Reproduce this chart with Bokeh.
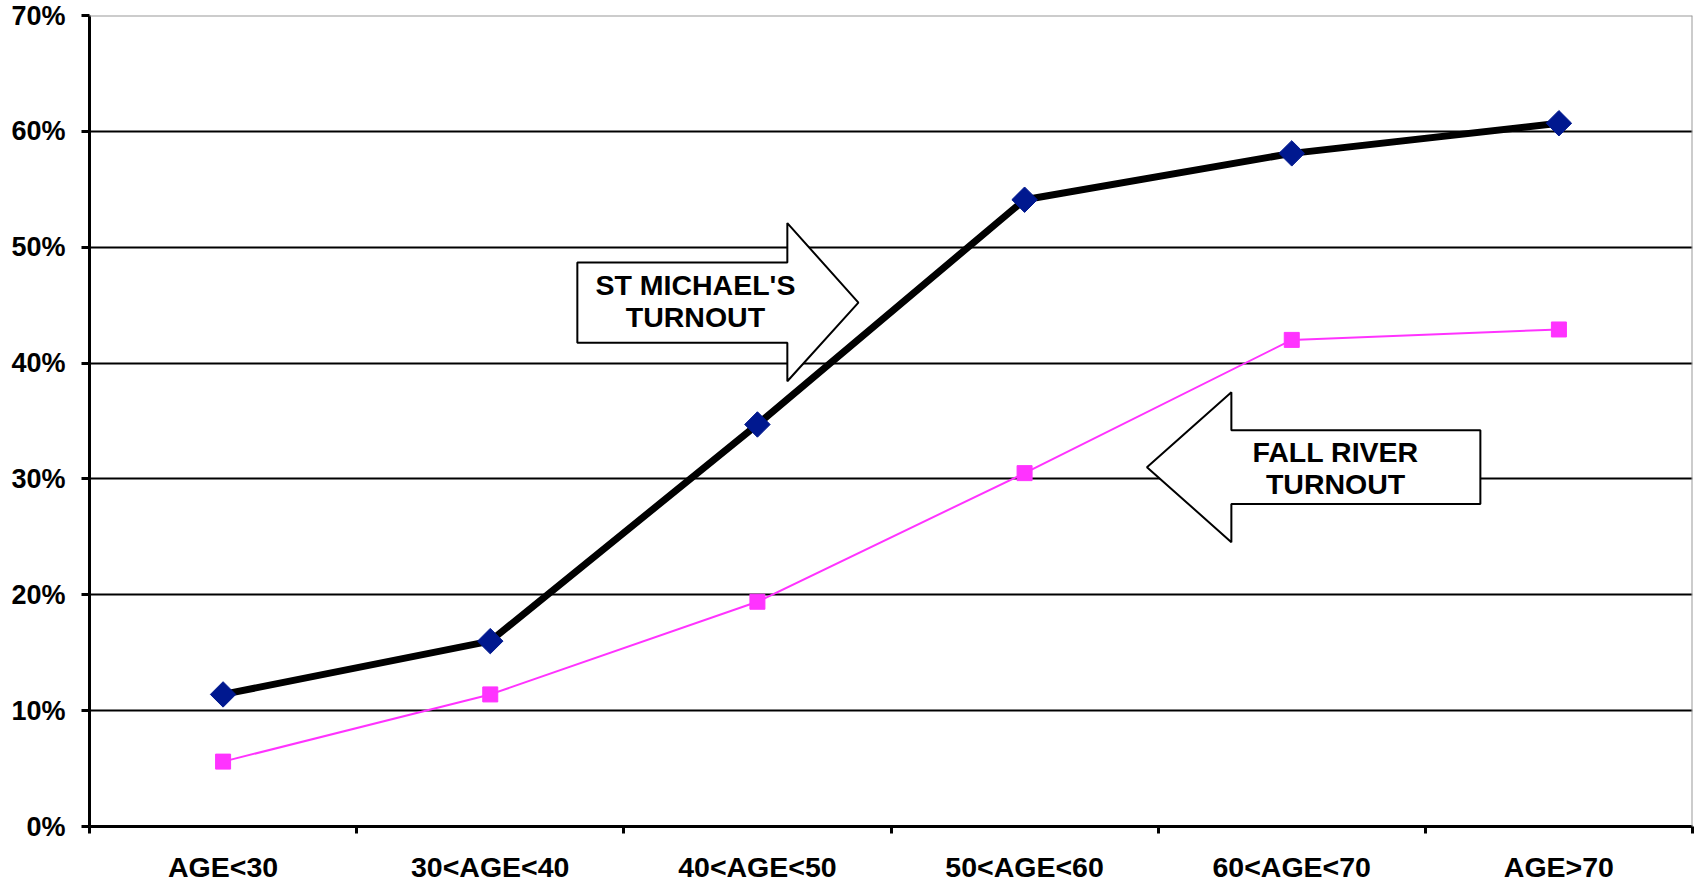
import numpy as np
from bokeh.plotting import figure
from bokeh.models import Range1d, FixedTicker, Span, Label, PolyAnnotation, CustomJSTickFormatter
from bokeh.embed import file_html
from bokeh.resources import INLINE

# ---- data ----
categories = ["AGE<30", "30<AGE<40", "40<AGE<50", "50<AGE<60", "60<AGE<70", "AGE>70"]
st_michaels = [11.4, 16.0, 34.7, 54.1, 58.1, 60.7]
fall_river = [5.6, 11.4, 19.4, 30.5, 42.0, 42.9]
y_ticks = [0, 10, 20, 30, 40, 50, 60, 70]
y_tick_labels = ["0%", "10%", "20%", "30%", "40%", "50%", "60%", "70%"]
arrow_labels = [["ST MICHAEL'S", "TURNOUT"], ["FALL RIVER", "TURNOUT"]]

FONT = "Liberation Sans"
n = len(categories)
centers = list(np.arange(n) + 0.5)
bounds = list(np.arange(n + 1).astype(float))

p = figure(width=1695, height=885, x_range=Range1d(0, n), y_range=Range1d(y_ticks[0], y_ticks[-1]),
           output_backend="svg", toolbar_location=None,
           min_border_left=89, min_border_right=3, min_border_top=15, min_border_bottom=59)
p.outline_line_color = None
p.background_fill_color = "white"
p.border_fill_color = "white"

# x axis
xa = p.xaxis[0]
xa.ticker = FixedTicker(ticks=centers, minor_ticks=bounds)
xa.formatter = CustomJSTickFormatter(args=dict(cats=categories),
                                     code="const i = Math.floor(tick); return (i >= 0 && i < cats.length) ? cats[i] : '';")
xa.major_tick_out = 0
xa.major_tick_in = 0
xa.minor_tick_out = 7
xa.minor_tick_in = 0
xa.minor_tick_line_width = 3
xa.minor_tick_line_color = "black"
xa.axis_line_width = 3
xa.axis_line_color = "black"
xa.major_label_text_font = FONT
xa.major_label_text_font_style = "bold"
xa.major_label_text_font_size = "28.5px"
xa.major_label_text_color = "black"
xa.major_label_standoff = 17

# y axis
ya = p.yaxis[0]
ya.ticker = FixedTicker(ticks=y_ticks)
ya.formatter = CustomJSTickFormatter(args=dict(labs=y_tick_labels, tvals=y_ticks),
                                     code="const i = tvals.indexOf(Math.round(tick)); return i >= 0 ? labs[i] : '';")
ya.major_tick_out = 8
ya.major_tick_in = 0
ya.minor_tick_out = 0
ya.minor_tick_in = 0
ya.major_tick_line_width = 3
ya.major_tick_line_color = "black"
ya.axis_line_width = 3
ya.axis_line_color = "black"
ya.major_label_text_font = FONT
ya.major_label_text_font_style = "bold"
ya.major_label_text_font_size = "27px"
ya.major_label_text_color = "black"
ya.major_label_standoff = 16

# grid
p.xgrid.visible = False
p.ygrid.ticker = FixedTicker(ticks=y_ticks[1:-1])
p.ygrid.grid_line_color = "black"
p.ygrid.grid_line_width = 2

# plot-area border (top and right)
p.add_layout(Span(location=y_ticks[-1], dimension="width", line_color="#9a9a9a", line_width=2))
p.add_layout(Span(location=n, dimension="height", line_color="#9a9a9a", line_width=2))

# series
p.line(centers, st_michaels, line_color="black", line_width=7, line_join="round")
p.scatter(centers, st_michaels, marker="square", angle=np.pi / 4, size=18,
          fill_color="#00188f", line_color="#00188f")
p.line(centers, fall_river, line_color="#ff33ff", line_width=2)
p.scatter(centers, fall_river, marker="square", size=15,
          fill_color="#ff33ff", line_color="#ff33ff")

# block arrows (annotation geometry)
def right_arrow(x0, xb, xt, yb0, yb1, yh0, yh1):
    ym = (yb0 + yb1) / 2
    return [x0, xb, xb, xt, xb, xb, x0], [yb1, yb1, yh1, ym, yh0, yb0, yb0]

def left_arrow(xt, xb, x1, yb0, yb1, yh0, yh1):
    ym = (yb0 + yb1) / 2
    return [xt, xb, xb, x1, x1, xb, xb], [ym, yh1, yb1, yb1, yb0, yb0, yh0]

xs1, ys1 = right_arrow(1.826, 2.612, 2.878, 41.76, 48.68, 38.43, 52.08)
xs2, ys2 = left_arrow(3.958, 4.274, 5.206, 27.83, 34.20, 24.54, 37.48)
for xs, ys in ((xs1, ys1), (xs2, ys2)):
    p.add_layout(PolyAnnotation(xs=xs, ys=ys, fill_color="white", fill_alpha=1.0,
                                line_color="black", line_alpha=1.0, line_width=2))

label_pos = [(2.268, [46.71, 44.0]), (4.664, [32.34, 29.52])]
for (lx, lys), lines in zip(label_pos, arrow_labels):
    for ly, txt in zip(lys, lines):
        p.add_layout(Label(x=lx, y=ly, text=txt, text_align="center", text_baseline="middle",
                           text_font=FONT, text_font_style="bold", text_font_size="28.5px",
                           text_color="black"))

open("out.html", "w").write(file_html(p, INLINE))
